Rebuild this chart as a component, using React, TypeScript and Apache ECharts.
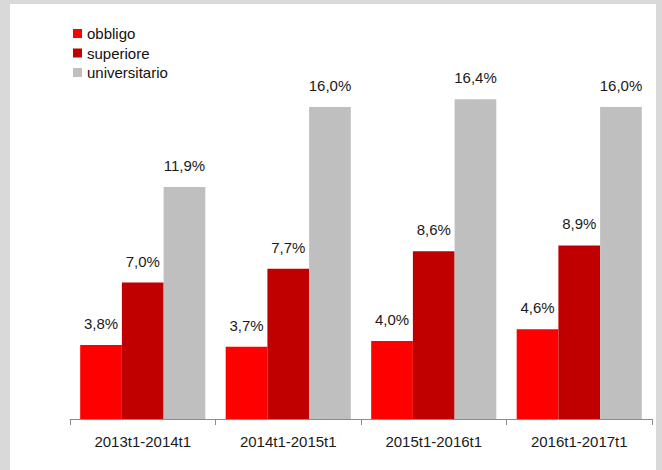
import React, { useEffect, useRef } from "react";
import * as echarts from "echarts";

const categories = ["2013t1-2014t1", "2014t1-2015t1", "2015t1-2016t1", "2016t1-2017t1"];
const seriesNames = ["obbligo", "superiore", "universitario"];
const obbligo = [3.8, 3.7, 4.0, 4.6];
const superiore = [7.0, 7.7, 8.6, 8.9];
const universitario = [11.9, 16.0, 16.4, 16.0];
const colors = ["#ff0000", "#c00000", "#bfbfbf"];

const FONT = "Liberation Sans, Arial, sans-serif";

export default function App() {
  const ref = useRef<HTMLDivElement>(null);
  useEffect(() => {
    if (!ref.current) return;
    const chart = echarts.init(ref.current, null, { renderer: "svg" });
    const datasets = [obbligo, superiore, universitario];
    chart.setOption({
      animation: false,
      backgroundColor: "#ffffff",
      textStyle: { fontFamily: FONT },
      legend: {
        orient: "vertical",
        left: 73,
        top: 26,
        padding: 0,
        itemWidth: 9,
        itemHeight: 9,
        itemGap: 4.5,
        icon: "rect",
        textStyle: { fontSize: 15, color: "#111", fontFamily: FONT },
        data: seriesNames,
      },
      grid: { left: 70, right: 10, top: 29, bottom: 51 },
      xAxis: {
        type: "category",
        data: categories,
        axisLine: { lineStyle: { color: "#8c8c8c", width: 1 } },
        axisTick: { show: true, length: 6, lineStyle: { color: "#8c8c8c" } },
        axisLabel: { fontSize: 15, color: "#1a1a1a", margin: 15, fontFamily: FONT },
      },
      yAxis: {
        type: "value",
        min: 0,
        max: 20,
        show: false,
        splitLine: { show: false },
      },
      graphic: [
        { type: "rect", shape: { x: 0, y: 0, width: 10, height: 470 }, style: { fill: "#d9d9d9" } },
        { type: "rect", shape: { x: 0, y: 0, width: 662, height: 4 }, style: { fill: "#d9d9d9" } },
        { type: "rect", shape: { x: 656, y: 0, width: 6, height: 470 }, style: { fill: "#d9d9d9" } },
      ],
      series: seriesNames.map((name, i) => ({
        name,
        type: "bar",
        data: datasets[i],
        barGap: "0%",
        barCategoryGap: "14%",
        itemStyle: { color: colors[i] },
        label: {
          show: true,
          position: "top",
          distance: 14,
          fontSize: 15,
          color: "#1a1a1a",
          fontFamily: FONT,
          formatter: (p: any) => p.value.toFixed(1).replace(".", ",") + "%",
        },
      })),
    });
    return () => chart.dispose();
  }, []);
  return (
    <div
      ref={ref}
      style={{ position: "absolute", left: 0, top: 0, width: 662, height: 470 }}
    />
  );
}
